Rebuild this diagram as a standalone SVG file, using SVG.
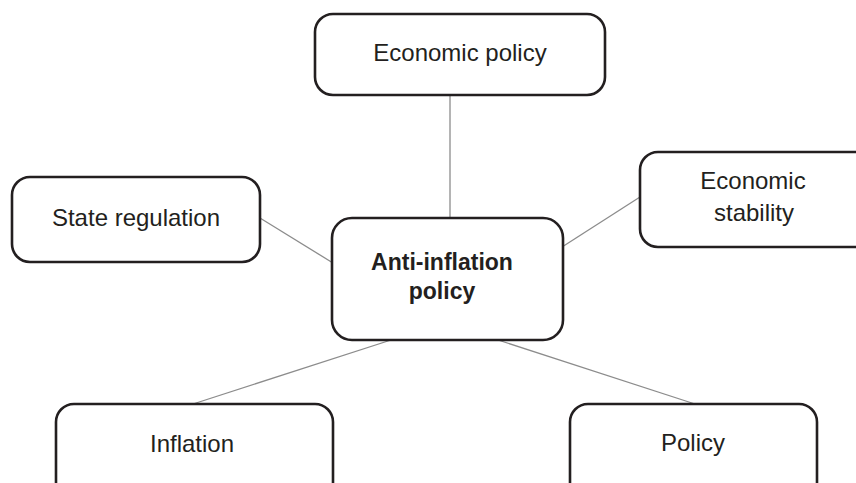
<svg xmlns="http://www.w3.org/2000/svg" width="856" height="483" viewBox="0 0 856 483">
<style>
.box{fill:#fff;stroke:#231f20;stroke-width:2.6}
.t{font-family:"Liberation Sans",Arial,sans-serif;font-size:24px;fill:#231f20;text-anchor:middle}
.b{font-weight:bold;font-size:23px}
.c{stroke:#8c8c8c;stroke-width:1.3;fill:none}
</style>
<rect width="856" height="483" fill="#fff"/>
<g id="connectors">
<line class="c" x1="450" y1="95" x2="450" y2="218"/>
<line class="c" x1="260" y1="218" x2="333" y2="263"/>
<line class="c" x1="640" y1="197" x2="562" y2="247"/>
<line class="c" x1="193" y1="404" x2="391" y2="340"/>
<line class="c" x1="695" y1="404" x2="498" y2="340"/>
</g>
<g id="economic-policy">
<rect class="box" x="315" y="14" width="290" height="81" rx="18"/>
<text class="t" x="460" y="61">Economic policy</text>
</g>
<g id="state-regulation">
<rect class="box" x="12" y="177" width="248" height="85" rx="18"/>
<text class="t" x="136" y="226">State regulation</text>
</g>
<g id="anti-inflation-policy">
<rect class="box" x="332" y="218" width="231" height="122" rx="20"/>
<text class="t b" x="442" y="270">Anti-inflation</text>
<text class="t b" x="442" y="299">policy</text>
</g>
<g id="economic-stability">
<rect class="box" x="640" y="152" width="240" height="95" rx="18"/>
<text class="t" x="753" y="189">Economic</text>
<text class="t" x="754" y="221">stability</text>
</g>
<g id="inflation">
<rect class="box" x="56" y="404" width="277" height="100" rx="18"/>
<text class="t" x="192" y="452">Inflation</text>
</g>
<g id="policy">
<rect class="box" x="570" y="404" width="247" height="100" rx="18"/>
<text class="t" x="693" y="451">Policy</text>
</g>
</svg>
